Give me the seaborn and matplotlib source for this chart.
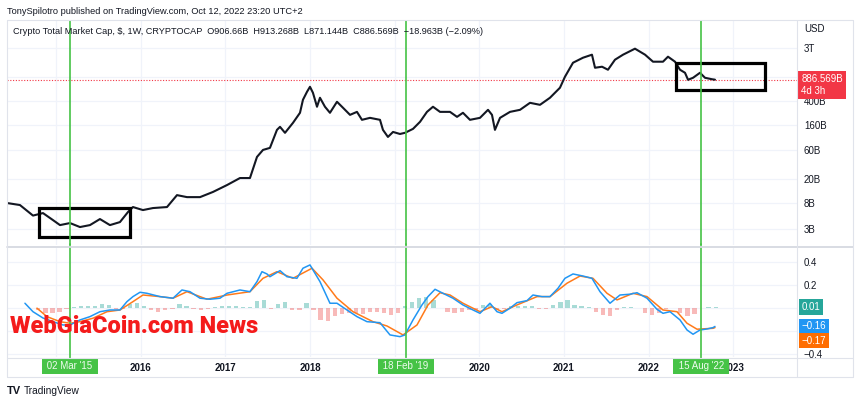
import matplotlib
matplotlib.use("Agg")
import matplotlib.pyplot as plt
import seaborn as sns
import numpy as np
import pandas as pd
from matplotlib import font_manager as fm
from matplotlib.textpath import TextPath
from matplotlib.patches import Rectangle
from matplotlib.lines import Line2D
from matplotlib.ticker import NullLocator
from matplotlib.transforms import blended_transform_factory

# ---------------- data (time in decimal years, market cap in $B) ----------------
price_t = [2014.421, 2014.574, 2014.728, 2014.846, 2014.964, 2015.047, 2015.165, 2015.283, 2015.401,
           2015.519, 2015.637, 2015.755, 2015.850, 2015.909, 2016.027, 2016.145, 2016.311, 2016.429,
           2016.547, 2016.701, 2016.854, 2017.020, 2017.173, 2017.291, 2017.374, 2017.445, 2017.527,
           2017.610, 2017.646, 2017.705, 2017.799, 2017.882, 2017.917, 2017.965, 2018.000, 2018.035,
           2018.083, 2018.118, 2018.177, 2018.236, 2018.319, 2018.390, 2018.473, 2018.555, 2018.614,
           2018.709, 2018.827, 2018.862, 2018.921, 2018.981, 2019.063, 2019.122, 2019.217, 2019.300,
           2019.382, 2019.453, 2019.536, 2019.654, 2019.737, 2019.807, 2019.890, 2020.008, 2020.103,
           2020.150, 2020.185, 2020.245, 2020.363, 2020.481, 2020.599, 2020.717, 2020.835, 2020.953,
           2021.012, 2021.107, 2021.225, 2021.331, 2021.367, 2021.450, 2021.520, 2021.603, 2021.698,
           2021.839, 2021.958, 2022.052, 2022.170, 2022.229, 2022.312, 2022.371, 2022.430, 2022.466,
           2022.525, 2022.607, 2022.666, 2022.749, 2022.784]
price_b = [8.07, 7.47, 5.0, 5.50, 4.21, 3.48, 3.76, 3.23, 3.48,
           4.38, 3.48, 3.90, 5.72, 6.92, 6.17, 6.66, 6.92, 10.9,
           10.1, 10.1, 12.3, 16.0, 20.9, 20.9, 46.7, 61, 65.9,
           131, 147, 117, 171, 251, 412, 559, 676, 538,
           316, 445, 316, 251, 382, 304, 232, 260, 192,
           207, 192, 131, 100, 121, 112, 117, 136, 178,
           260, 316, 260, 260, 215, 251, 192, 207, 281,
           232, 131, 207, 260, 281, 367, 340, 445, 652,
           991, 1690, 2046, 2296, 1396, 1452, 1294, 1897, 2296,
           2887, 2296, 1758, 1758, 2128, 1758, 1294, 1153, 883,
           953, 1153, 953, 901, 886.569]

macd_t = [2014.633, 2014.728, 2014.846, 2014.964, 2015.082, 2015.165, 2015.283, 2015.401, 2015.519,
          2015.637, 2015.755, 2015.838, 2015.909, 2015.992, 2016.074, 2016.228, 2016.382, 2016.488,
          2016.582, 2016.701, 2016.819, 2016.937, 2017.020, 2017.173, 2017.291, 2017.374, 2017.433,
          2017.492, 2017.527, 2017.646, 2017.728, 2017.846, 2017.917, 2018.000, 2018.059, 2018.118,
          2018.236, 2018.319, 2018.437, 2018.555, 2018.673, 2018.827, 2018.945, 2019.063, 2019.122,
          2019.217, 2019.323, 2019.394, 2019.477, 2019.571, 2019.689, 2019.807, 2019.926, 2020.008,
          2020.126, 2020.209, 2020.268, 2020.363, 2020.445, 2020.564, 2020.634, 2020.741, 2020.835,
          2020.930, 2021.012, 2021.107, 2021.225, 2021.331, 2021.426, 2021.544, 2021.662, 2021.780,
          2021.863, 2021.981, 2022.099, 2022.170, 2022.253, 2022.371, 2022.454, 2022.525, 2022.607,
          2022.690, 2022.761, 2022.784]
macd_v = [0.043, -0.031, -0.086, -0.118, -0.147, -0.147, -0.103, -0.074, -0.031,
          -0.016, -0.016, 0.057, 0.101, 0.139, 0.130, 0.101, 0.087, 0.159,
          0.144, 0.087, 0.078, 0.087, 0.130, 0.159, 0.144, 0.232, 0.319,
          0.299, 0.275, 0.328, 0.275, 0.261, 0.349, 0.378, 0.305, 0.232,
          0.043, 0.043, -0.016, -0.074, -0.118, -0.127, -0.234, -0.249, -0.234,
          -0.103, 0.028, 0.101, 0.165, 0.130, 0.087, 0.028, -0.016, -0.045,
          0.043, -0.031, -0.045, 0.0, 0.048, 0.066, 0.115, 0.101, 0.101,
          0.174, 0.261, 0.299, 0.281, 0.261, 0.144, 0.043, 0.115, 0.122,
          0.135, 0.087, -0.010, -0.045, -0.031, -0.103, -0.191, -0.228, -0.191,
          -0.182, -0.170, -0.160]

signal_t = [2014.775, 2014.893, 2015.047, 2015.165, 2015.283, 2015.437, 2015.602, 2015.755, 2015.909,
            2016.027, 2016.228, 2016.382, 2016.547, 2016.783, 2017.020, 2017.291, 2017.445, 2017.610,
            2017.799, 2018.024, 2018.154, 2018.319, 2018.508, 2018.744, 2018.910, 2019.099, 2019.264,
            2019.394, 2019.536, 2019.654, 2019.807, 2020.008, 2020.150, 2020.268, 2020.445, 2020.682,
            2020.835, 2021.036, 2021.190, 2021.343, 2021.509, 2021.627, 2021.816, 2021.981, 2022.170,
            2022.335, 2022.454, 2022.572, 2022.761, 2022.784]
signal_v = [0.0, -0.074, -0.118, -0.132, -0.118, -0.088, -0.031, -0.016, 0.057,
            0.115, 0.101, 0.087, 0.144, 0.078, 0.115, 0.144, 0.261, 0.319,
            0.261, 0.349, 0.247, 0.087, -0.031, -0.118, -0.156, -0.234, -0.147,
            0.028, 0.135, 0.115, 0.043, -0.031, 0.013, -0.031, 0.028, 0.101,
            0.101, 0.218, 0.281, 0.261, 0.130, 0.072, 0.130, 0.101, -0.016,
            -0.031, -0.132, -0.184, -0.176, -0.170]

hist_start = "2014-10"   # monthly histogram values
hist_v = [-0.02, -0.04, -0.04,
          -0.03, -0.01, 0.01, 0.015, 0.02, 0.02, 0.04, 0.03, -0.01, -0.005, 0.04, 0.045,
          0.02, -0.02, -0.03, -0.02, -0.01, 0.04, 0.02, -0.01, -0.015, -0.01, 0.01, 0.015,
          0.02, 0.015, 0.01, 0.01, 0.06, 0.07, -0.01, 0.04, 0.05, -0.02, -0.02, 0.045,
          -0.02, -0.10, -0.11, -0.07, -0.05, -0.04, -0.04, -0.05, -0.03, -0.03, -0.04, -0.06,
          -0.04, 0.02, 0.05, 0.09, 0.10, 0.07, 0.0, -0.03, -0.04, -0.03, -0.02, -0.02,
          0.03, 0.04, -0.02, -0.01, 0.02, 0.02, 0.015, 0.02, -0.01, -0.01, 0.03, 0.05,
          0.07, 0.03, 0.02, 0.01, -0.03, -0.06, -0.07, -0.02, 0.01, 0.01, 0.005, -0.04,
          -0.06, -0.04, -0.01, 0.0, -0.04, -0.07, -0.05, 0.0, 0.01, 0.01]

price_ticks = [3, 8, 20, 60, 160, 400, 1000, 3000]
price_tick_labels = ["3B", "8B", "20B", "60B", "160B", "400B", "1T", "3T"]
macd_ticks = [-0.4, -0.2, 0.0, 0.2, 0.4]
macd_tick_labels = ["\u22120.4", "\u22120.2", "0", "0.2", "0.4"]
years = [2015, 2016, 2017, 2018, 2019, 2020, 2021, 2022, 2023]
year_labels = [str(y) for y in years]
event_t = [2015.164, 2019.131, 2022.620]
event_labels = ["02 Mar '15", "18 Feb '19", "15 Aug '22"]
last_close = 886.569
macd_last, signal_last, hist_last = -0.16, -0.17, 0.01
box_2015 = [2014.802, 2015.874, 2.23, 6.75]      # t0, t1, low, high ($B)
box_2022 = [2022.320, 2023.375, 598, 1694]

header1 = "TonySpilotro published on TradingView.com, Oct 12, 2022 23:20 UTC+2"
header2 = ("Crypto Total Market Cap, $, 1W, CRYPTOCAP  O906.66B  H913.268B  L871.144B  "
           "C886.569B  \u221218.963B (\u22122.09%)")
watermark = "WebGiaCoin.com News"

# ---------------- style ----------------
sns.set_style("white")
plt.rcParams["font.family"] = ["Liberation Sans", "DejaVu Sans"]
TXT = "#131722"
GRID = "#f0f3fa"
BORDER = "#e0e3eb"
GREEN = "#45c245"
BLUE = "#2196f3"
ORANGE = "#ff7a1a"

W, H = 860, 403
fig = plt.figure(figsize=(W / 100, H / 100), dpi=100)
fig.patch.set_facecolor("white")

def fx(x):
    return x / W

def fy(y):
    return 1 - y / H

L, R, RR = 7, 797, 853
TOP, P1B, P2T, P2B, SB = 20, 245, 248, 357, 377
XMIN, XMAX = 2014.421, 2023.753

ax1 = fig.add_axes([fx(L), fy(P1B), (R - L) / W, (P1B - TOP) / H])
ax2 = fig.add_axes([fx(L), fy(P2B), (R - L) / W, (P2B - P2T) / H], sharex=ax1)

# ---- price panel ----
price_df = pd.DataFrame({"t": price_t, "cap": price_b})
sns.lineplot(data=price_df, x="t", y="cap", ax=ax1, color="#131722", lw=1.5,
             estimator=None, sort=False, zorder=3)
ax1.set_yscale("log")
ax1.set_ylim(1.63, 8610)
ax1.set_xlim(XMIN, XMAX)
ax1.axhline(last_close, color="#f23645", lw=0.8, ls=(0, (1, 1.5)), zorder=2)
for b in (box_2015, box_2022):
    ax1.add_patch(Rectangle((b[0], b[2]), b[1] - b[0], b[3] - b[2], fill=False,
                            ec="black", lw=2.3, zorder=5))

# ---- MACD panel ----
macd_df = pd.DataFrame({"t": macd_t, "v": macd_v})
sig_df = pd.DataFrame({"t": signal_t, "v": signal_v})
per = pd.period_range(hist_start, periods=len(hist_v), freq="M")
hist_t = per.year + (per.month - 0.5) / 12.0
hist_arr = np.array(hist_v)
ax2.bar(hist_t, hist_arr, width=0.05,
        color=np.where(hist_arr >= 0, "#26a69a", "#ef5350"), alpha=0.4, lw=0, zorder=2)
sns.lineplot(data=macd_df, x="t", y="v", ax=ax2, color=BLUE, lw=1.1, estimator=None,
             sort=False, zorder=4)
sns.lineplot(data=sig_df, x="t", y="v", ax=ax2, color=ORANGE, lw=1.1, estimator=None,
             sort=False, zorder=3)
ax2.set_ylim(-0.427, 0.526)

# ---- axes cosmetics ----
for ax in (ax1, ax2):
    for s in ax.spines.values():
        s.set_visible(False)
    ax.set_xlabel("")
    ax.set_ylabel("")
    ax.grid(True, color=GRID, lw=0.9)
    ax.set_axisbelow(True)
    ax.yaxis.tick_right()
    ax.tick_params(axis="y", length=0, pad=5, labelsize=7, labelcolor=TXT)
    ax.tick_params(axis="x", length=0)

ax1.set_yticks(price_ticks)
ax1.set_yticklabels(price_tick_labels)
ax1.yaxis.set_minor_locator(NullLocator())
ax1.tick_params(axis="x", labelbottom=False)
ax2.set_yticks(macd_ticks)
ax2.set_yticklabels(macd_tick_labels)
ax2.set_xticks(years)
ax2.set_xticklabels(year_labels)
ax2.tick_params(axis="x", labelsize=7, labelcolor=TXT, pad=4.5)
for lbl in ax2.get_xticklabels():
    lbl.set_fontweight("bold")
ax2.set_xlim(XMIN, XMAX)

# ---- event lines and labels ----
btr = blended_transform_factory(ax2.transData, fig.transFigure)
for t, lab in zip(event_t, event_labels):
    ax1.axvline(t, color=GREEN, lw=1.2, zorder=6)
    ax2.axvline(t, color=GREEN, lw=1.2, ymin=-0.02, ymax=1.04, clip_on=False, zorder=6)
    ax2.text(t, fy(366), " " + lab + " ", transform=btr, ha="center", va="center",
             fontsize=7, color="#eefbee", zorder=10, clip_on=False,
             bbox=dict(boxstyle="square,pad=0.28", fc="#46c346", ec="none"))

# ---- right-hand value labels ----
ax1.annotate("886.569B\n4d 3h", xy=(1, last_close), xycoords=("axes fraction", "data"),
             xytext=(3.2, 3.8), textcoords="offset points", ha="left", va="top",
             fontsize=7, color="white", linespacing=1.15, annotation_clip=False, zorder=10,
             bbox=dict(boxstyle="square,pad=0.32", fc="#f23645", ec="none"))
ax2.annotate("0.01", xy=(1, hist_last), xycoords=("axes fraction", "data"),
             xytext=(3.2, 0), textcoords="offset points", ha="left", va="center",
             fontsize=7, color="white", annotation_clip=False, zorder=10,
             bbox=dict(boxstyle="square,pad=0.3", fc="#26a69a", ec="none"))
ax2.annotate("\u22120.16", xy=(1, macd_last), xycoords=("axes fraction", "data"),
             xytext=(3.2, 0), textcoords="offset points", ha="left", va="center",
             fontsize=7, color="white", annotation_clip=False, zorder=10,
             bbox=dict(boxstyle="square,pad=0.3", fc=BLUE, ec="none"))
ax2.annotate("\u22120.17", xy=(1, signal_last), xycoords=("axes fraction", "data"),
             xytext=(3.2, -9.3), textcoords="offset points", ha="left", va="center",
             fontsize=7, color="white", annotation_clip=False, zorder=11,
             bbox=dict(boxstyle="square,pad=0.3", fc="#ff6d00", ec="none"))

# ---- frame lines ----
def hline(y, x0, x1, c=BORDER, lw=0.8):
    fig.add_artist(Line2D([fx(x0), fx(x1)], [fy(y), fy(y)], transform=fig.transFigure,
                          color=c, lw=lw, zorder=1))

def vline(x, y0, y1, c=BORDER, lw=0.8):
    fig.add_artist(Line2D([fx(x), fx(x)], [fy(y0), fy(y1)], transform=fig.transFigure,
                          color=c, lw=lw, zorder=1))

fig.add_artist(Rectangle((fx(R + 1), fy(SB - 0.5)), (RR - R - 2) / W, (SB - P2B - 1.5) / H,
                         transform=fig.transFigure, fc="white", ec="none", zorder=1))
hline(TOP, L, RR)
hline(SB, L, RR)
hline(246.5, L, RR, c="#d6d9e0", lw=1.3)
hline(P2B + 0.5, L, RR)
vline(L, TOP, SB)
vline(RR, TOP, SB)
vline(R, TOP, SB)

# ---- texts ----
fig.text(fx(7), fy(11.5), header1, fontsize=6.65, color=TXT, va="center", ha="left")
fig.text(fx(13), fy(32), header2, fontsize=6.6, color=TXT, va="center", ha="left", zorder=2)
fig.text(fx(804), fy(29), "USD", fontsize=7, color=TXT, va="center", ha="left", zorder=2)
fig.text(fx(7), fy(391), "TV", fontsize=8, fontweight="black", color="#131722",
         va="center", ha="left")
fig.text(fx(24), fy(391), "TradingView", fontsize=7.3, color=TXT, va="center", ha="left")

# watermark: choose the installed heavy face whose width/height ratio best matches
TARGET_W, TARGET_H = 248.0, 18.0
candidates = [("Roboto", "normal", "black"), ("Liberation Sans", "normal", "bold"),
              ("Lato", "normal", "black"), ("Inter", "normal", "black"),
              ("Open Sans", "normal", "heavy"), ("Noto Sans", "normal", "black"),
              ("DejaVu Sans", "normal", "bold"), ("Roboto Condensed", "condensed", "black"),
              ("Liberation Sans Narrow", "condensed", "bold"),
              ("DejaVu Sans", "condensed", "bold")]
best, best_err = None, 1e9
for fam, stretch, weight in candidates:
    try:
        path = fm.findfont(fm.FontProperties(family=fam, stretch=stretch, weight=weight),
                           fallback_to_default=False)
        prop = fm.FontProperties(fname=path)
        ext = TextPath((0, 0), watermark, size=100, prop=prop).get_extents()
    except Exception:
        continue
    ratio = ext.width / max(ext.y1, 1e-6)
    err = abs(ratio - TARGET_W / TARGET_H)
    if err < best_err:
        best, best_err = prop, err
if best is None:
    best = fm.FontProperties(family="DejaVu Sans", weight="bold")

wm = fig.text(fx(10), fy(333), watermark, fontproperties=best,
              color="#f41b1b", va="baseline", ha="left", zorder=20)
wm.set_fontsize(20)
fig.canvas.draw()
bb = wm.get_window_extent()
wm.set_fontsize(20 * TARGET_W / bb.width)

fig.savefig("out.png", dpi=100, facecolor="white")
